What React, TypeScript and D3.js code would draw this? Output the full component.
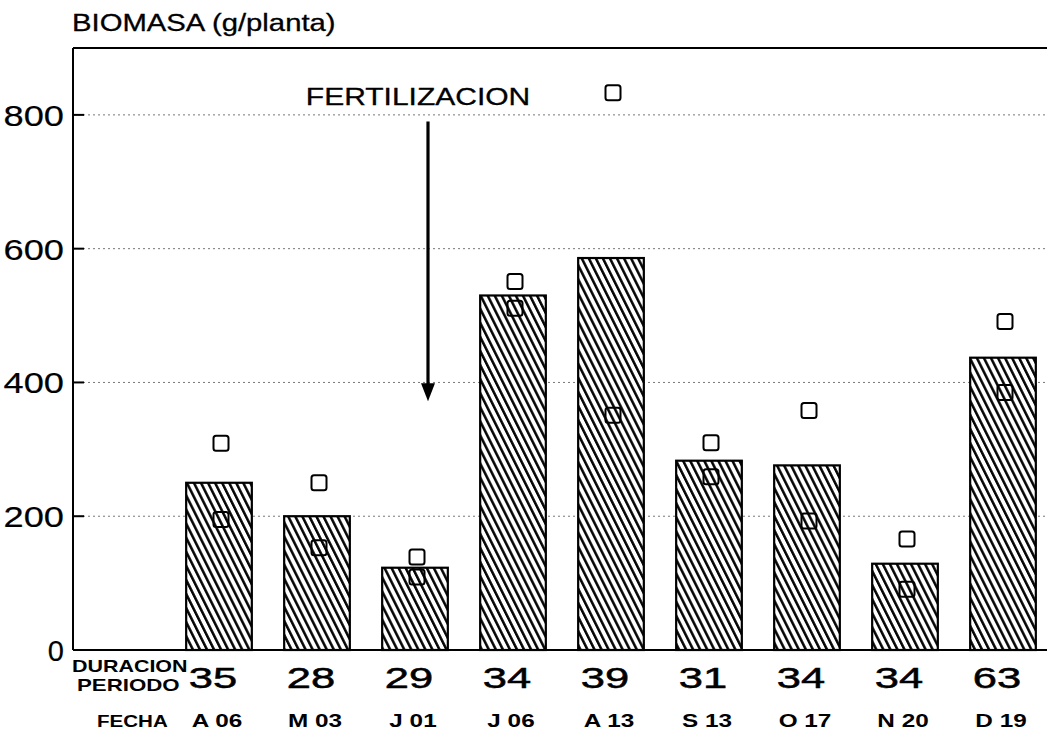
import * as d3 from 'd3'

// values
const fechas = ['A 06', 'M 03', 'J 01', 'J 06', 'A 13', 'S 13', 'O 17', 'N 20', 'D 19']
const duracion = [35, 28, 29, 34, 39, 31, 34, 34, 63]
const biomasaBarra = [250, 200, 123, 530, 586, 283, 276, 129, 437]
const biomasaAlta = [309, 250, 139, 551, 833, 310, 358, 166, 491]
const biomasaBaja = [195, 153, 109, 511, 351, 259, 193, 91, 385]
const yTicks = [0, 200, 400, 600, 800]

const fertIndex = 2 // arrow sits just right of J 01
const arrowTop = 790
const arrowTip = 372

const W = 1047
const H = 736
const FONT = '"Liberation Sans", Arial, Helvetica, sans-serif'

interface TProps {
  x: number
  y: number
  sx?: number
  size: number
  weight?: number
  thick?: number
  anchor?: 'start' | 'middle' | 'end'
  children: React.ReactNode
}

// the original uses a wide plotter font, so glyphs get stretched sideways
function T({ x, y, sx = 1, size, weight = 400, thick = 0, anchor = 'start', children }: TProps) {
  return (
    <text
      transform={`translate(${x},${y}) scale(${sx},1)`}
      fontSize={size}
      fontWeight={weight}
      textAnchor={anchor}
      fontFamily={FONT}
      fill="#000"
      stroke={thick ? '#000' : 'none'}
      strokeWidth={thick}
    >
      {children}
    </text>
  )
}

export default function App() {
  // slot 0 is left empty, it carries the row titles underneath
  const slots = d3.range(fechas.length + 1)
  const x = d3.scaleBand<number>()
    .domain(slots)
    .range([72, 1052])
    .paddingInner(0.33)
    .paddingOuter(0.165)
  const y = d3.scaleLinear().domain([0, 900]).range([650, 48])
  const bw = x.bandwidth()
  const cx = (i: number) => x(i + 1)! + bw / 2

  const left = 73
  const right = W
  const sq = 15

  const ax = cx(fertIndex) + 13
  const tipY = y(arrowTip)

  return (
    <svg
      width={W}
      height={H}
      style={{ position: 'absolute', left: 0, top: 0, background: '#fff' }}
    >
      <defs>
        <pattern
          id="hatch"
          patternUnits="userSpaceOnUse"
          width={6.3}
          height={10}
          patternTransform="rotate(-26.6)"
        >
          <rect width={6.3} height={10} fill="#fff" />
          <line x1={1.3} y1={0} x2={1.3} y2={10} stroke="#000" strokeWidth={2.5} />
        </pattern>
      </defs>

      {/* grid */}
      {yTicks.filter(t => t > 0).map(t => (
        <line
          key={t}
          x1={left}
          x2={right}
          y1={y(t)}
          y2={y(t)}
          stroke="#777"
          strokeWidth={1}
          strokeDasharray="2 3"
        />
      ))}

      {/* bars */}
      {biomasaBarra.map((v, i) => (
        <rect
          key={fechas[i]}
          x={x(i + 1)!}
          y={y(v)}
          width={bw}
          height={y(0) - y(v)}
          fill="url(#hatch)"
          stroke="#000"
          strokeWidth={2.2}
        />
      ))}

      {/* open squares */}
      {[biomasaAlta, biomasaBaja].map((serie, s) =>
        serie.map((v, i) => (
          <rect
            key={`${s}-${i}`}
            x={cx(i) + 2 - sq / 2}
            y={y(v) - sq / 2}
            width={sq}
            height={sq}
            rx={2.5}
            fill={s === 0 ? '#fff' : 'none'}
            stroke="#000"
            strokeWidth={2}
          />
        ))
      )}

      {/* frame */}
      <line x1={left} x2={right} y1={y(900)} y2={y(900)} stroke="#000" strokeWidth={2} />
      <line x1={left} x2={left} y1={y(900)} y2={y(0)} stroke="#000" strokeWidth={2} />
      <line x1={left} x2={right} y1={y(0)} y2={y(0)} stroke="#000" strokeWidth={2} />

      {/* y ticks */}
      {yTicks.map(t => (
        <g key={t}>
          <line x1={left} x2={left + 11} y1={y(t)} y2={y(t)} stroke="#000" strokeWidth={2} />
          <T x={64} y={y(t) + 11} sx={t === 0 ? 1 : 1.25} size={29} thick={0.2} anchor="end">
            {t}
          </T>
        </g>
      ))}

      <T x={72} y={31} sx={1.22} size={24} thick={0.3}>BIOMASA (g/planta)</T>

      {/* fertilization marker */}
      <T x={cx(fertIndex) + 3} y={105} sx={1.25} size={24} thick={0.3} anchor="middle">FERTILIZACION</T>
      <line x1={ax} x2={ax} y1={y(arrowTop)} y2={tipY - 12} stroke="#000" strokeWidth={3.2} />
      <polygon
        points={`${ax - 7},${tipY - 18} ${ax + 7},${tipY - 18} ${ax},${tipY}`}
        fill="#000"
      />

      {/* bottom rows */}
      <T x={72} y={672} sx={1.3} size={16.5} weight={700}>DURACION</T>
      <T x={77} y={691} sx={1.35} size={16.5} weight={700}>PERIODO</T>
      <T x={97} y={727} sx={1.21} size={17} weight={700}>FECHA</T>

      {duracion.map((d, i) => (
        <T key={i} x={cx(i) - 6} y={688} sx={1.5} size={29} thick={0.5} anchor="middle">
          {d}
        </T>
      ))}
      {fechas.map((f, i) => (
        <T key={f} x={cx(i) - 2} y={727} sx={1.35} size={18} weight={700} anchor="middle">
          {f}
        </T>
      ))}
    </svg>
  )
}
